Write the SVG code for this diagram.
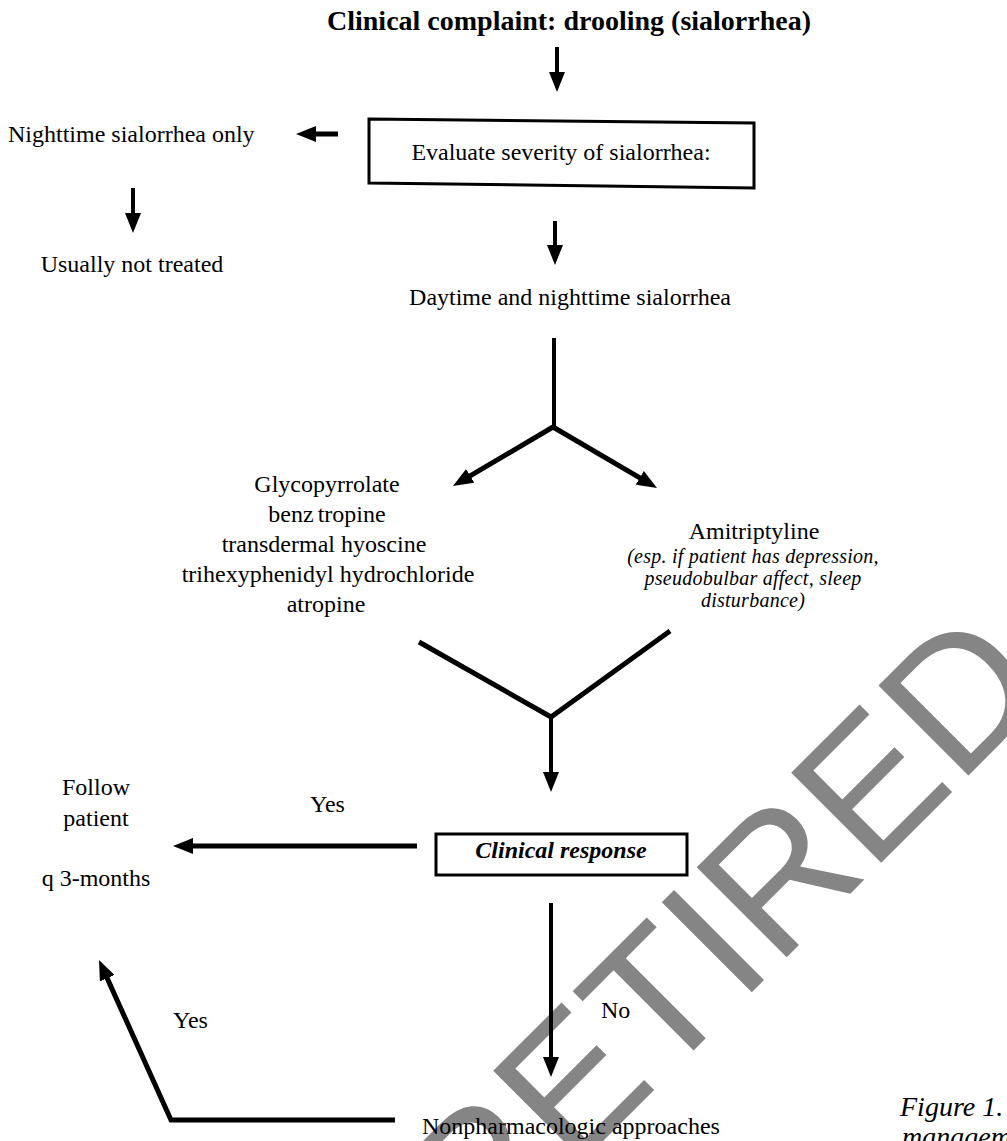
<svg xmlns="http://www.w3.org/2000/svg" width="1007" height="1141" viewBox="0 0 1007 1141">
  <defs>
    <marker id="ah" markerUnits="userSpaceOnUse" viewBox="0 0 20 16" markerWidth="20" markerHeight="16" refX="10" refY="8" orient="auto">
      <path d="M0,0 L20,8 L0,16 Z" fill="#000"/>
    </marker>
    <style>
      text { font-family: "Liberation Serif", "Times New Roman", serif; fill: #000; }
      .t { font-size: 24px; }
      .c { text-anchor: middle; }
      .it { font-size: 20px; font-style: italic; text-anchor: middle; letter-spacing: 0.25px; }
      .title { font-size: 28px; font-weight: bold; }
      .box { fill: #fff; stroke: #000; stroke-width: 3; }
      .ln { fill: none; stroke: #000; stroke-width: 4; }
      .thk { fill: none; stroke: #000; stroke-width: 5; }
      .wm { font-family: "Liberation Sans", Arial, sans-serif; font-size: 185px; fill: #858585; }
      .cap { font-size: 28px; font-style: italic; }
    </style>
  </defs>
  <rect width="1007" height="1141" fill="#fff"/>

  <g id="watermark">
    <text class="wm" transform="translate(478,1266) rotate(-45)">RETIRED</text>
  </g>

  <g id="connectors">
    <line class="ln" x1="557" y1="47" x2="557" y2="82" marker-end="url(#ah)"/>
    <line class="thk" x1="338" y1="134" x2="306" y2="134" marker-end="url(#ah)"/>
    <line class="ln" x1="133" y1="188" x2="133" y2="223" marker-end="url(#ah)"/>
    <line class="ln" x1="555" y1="221" x2="555" y2="255" marker-end="url(#ah)"/>
    <line class="ln" x1="554" y1="338" x2="554" y2="427"/>
    <line class="thk" x1="553" y1="427" x2="461.6" y2="480.9" marker-end="url(#ah)"/>
    <line class="thk" x1="553" y1="427" x2="648.4" y2="482.9" marker-end="url(#ah)"/>
    <polyline class="thk" points="419,642 551,717 670,631"/>
    <line class="ln" x1="551" y1="717" x2="551" y2="782" marker-end="url(#ah)"/>
    <line class="thk" x1="417" y1="846" x2="183" y2="846" marker-end="url(#ah)"/>
    <line class="ln" x1="551" y1="903" x2="551" y2="1067" marker-end="url(#ah)"/>
    <polyline class="thk" points="395,1120 171,1120 103.1,969.1" marker-end="url(#ah)"/>
    <text class="t" x="310" y="812">Yes</text>
    <text class="t" x="173" y="1028">Yes</text>
    <text class="t" x="601" y="1018">No</text>
  </g>

  <g id="title">
    <text class="title" x="327" y="30">Clinical complaint: drooling (sialorrhea)</text>
  </g>

  <g id="evaluate">
    <polygon class="box" points="369,119 754,123 754,188 369,183"/>
    <text class="t c" x="561" y="160">Evaluate severity of sialorrhea:</text>
  </g>

  <g id="nighttime">
    <text class="t" x="8" y="142">Nighttime sialorrhea only</text>
  </g>

  <g id="not-treated">
    <text class="t c" x="132" y="272">Usually not treated</text>
  </g>

  <g id="daytime">
    <text class="t c" x="570" y="305">Daytime and nighttime sialorrhea</text>
  </g>

  <g id="anticholinergics">
    <text class="t c" x="327" y="492">Glycopyrrolate</text>
    <text class="t c" x="327" y="522">benz<tspan dx="4">tropine</tspan></text>
    <text class="t c" x="324" y="552">transdermal hyoscine</text>
    <text class="t c" x="328" y="582">trihexyphenidyl hydrochloride</text>
    <text class="t c" x="326" y="612">atropine</text>
  </g>

  <g id="amitriptyline">
    <text class="t c" x="754" y="539">Amitriptyline</text>
    <text class="it" x="753" y="563">(esp. if patient has depression,</text>
    <text class="it" x="753" y="585">pseudobulbar affect, sleep</text>
    <text class="it" x="753" y="607">disturbance)</text>
  </g>

  <g id="clinical-response">
    <rect class="box" x="436" y="834" width="251" height="41" stroke-width="2.5"/>
    <text class="t c" x="561" y="858" font-weight="bold" font-style="italic">Clinical response</text>
  </g>

  <g id="follow">
    <text class="t c" x="96" y="795">Follow</text>
    <text class="t c" x="96" y="826">patient</text>
    <text class="t c" x="96" y="886">q 3-months</text>
  </g>

  <g id="nonpharmacologic">
    <text class="t" x="422" y="1134">Nonpharmacologic approaches</text>
  </g>

  <g id="caption">
    <text class="cap" x="900" y="1116">Figure 1.</text>
    <text class="cap" x="902" y="1146">managem</text>
  </g>
</svg>
